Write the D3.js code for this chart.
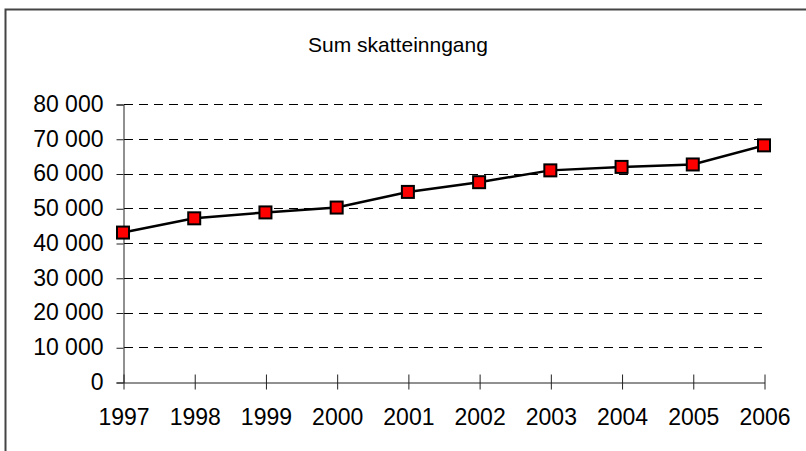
<!DOCTYPE html>
<html>
<head>
<meta charset="utf-8">
<script src="https://cdn.jsdelivr.net/npm/d3@7"></script>
<style>
  body { margin: 0; background: #fff; }
  svg text { font-family: Arial, "Liberation Sans", sans-serif; fill: #000; }
</style>
</head>
<body>
<div id="chart"></div>
<script>
// data
var years = ["1997","1998","1999","2000","2001","2002","2003","2004","2005","2006"];
var tax = [43000, 47100, 48800, 50200, 54700, 57500, 60900, 61900, 62600, 68100];
var yTicks = [0, 10000, 20000, 30000, 40000, 50000, 60000, 70000, 80000];
var title = "Sum skatteinngang";

var W = 806, H = 451;

var svg = d3.select('#chart')
  .append('svg')
    .attr('width', W)
    .attr('height', H);

// outer frame (runs off the right and bottom)
svg.append('rect')
  .attr('x', 5.5).attr('y', 9.5)
  .attr('width', 900).attr('height', 600)
  .attr('fill', 'none')
  .attr('stroke', '#444')
  .attr('stroke-width', 2);

var x = d3.scalePoint().domain(years).range([123, 764]);
var y = d3.scaleLinear().domain([0, 80000]).range([382, 104]);

var fmt = function(v) { return d3.format(",")(v).replace(/,/g, " "); };

// dashed gridlines
svg.selectAll('.grid')
  .data(yTicks.filter(function(d) { return d > 0; }))
  .enter().append('line')
    .attr('x1', 124).attr('x2', 762)
    .attr('y1', function(d) { return Math.round(y(d)) + 0.5; })
    .attr('y2', function(d) { return Math.round(y(d)) + 0.5; })
    .attr('stroke', '#000')
    .attr('stroke-width', 1)
    .attr('stroke-dasharray', '9,6');

// y axis
var yAxis = d3.axisLeft(y).tickValues(yTicks).tickSize(7).tickPadding(13).tickFormat(fmt);
var gy = svg.append('g').attr('transform', 'translate(123.5,0.5)').call(yAxis);
gy.select('.domain').attr('stroke', '#222');
gy.selectAll('.tick line').attr('stroke', '#222');
gy.selectAll('text').style('font-size', '23px').attr('dy', '0.3em');

// x axis, ticks crossing the line
var xAxis = d3.axisBottom(x).tickSize(7).tickPadding(19).tickSizeOuter(0);
var gx = svg.append('g').attr('transform', 'translate(0.5,' + (Math.round(y(0)) + 0.5) + ')').call(xAxis);
gx.select('.domain').attr('stroke', '#222');
gx.selectAll('.tick line').attr('y1', -8).attr('stroke', '#222');
gx.selectAll('text').style('font-size', '23px').attr('dy', '0.71em');

// title
svg.append('text')
  .attr('x', 398).attr('y', 52)
  .attr('text-anchor', 'middle')
  .style('font-size', '21px')
  .text(title);

// series line
var line = d3.line()
  .x(function(d, i) { return x(years[i]); })
  .y(function(d) { return y(d); });

svg.append('path')
  .datum(tax)
  .attr('d', line)
  .attr('fill', 'none')
  .attr('stroke', '#000')
  .attr('stroke-width', 2.5);

// square markers
svg.selectAll('.pt')
  .data(tax)
  .enter().append('rect')
    .attr('x', function(d, i) { return x(years[i]) - 6; })
    .attr('y', function(d) { return y(d) - 6; })
    .attr('width', 12).attr('height', 12)
    .attr('fill', '#ff0000')
    .attr('stroke', '#000')
    .attr('stroke-width', 2);
</script>
</body>
</html>
